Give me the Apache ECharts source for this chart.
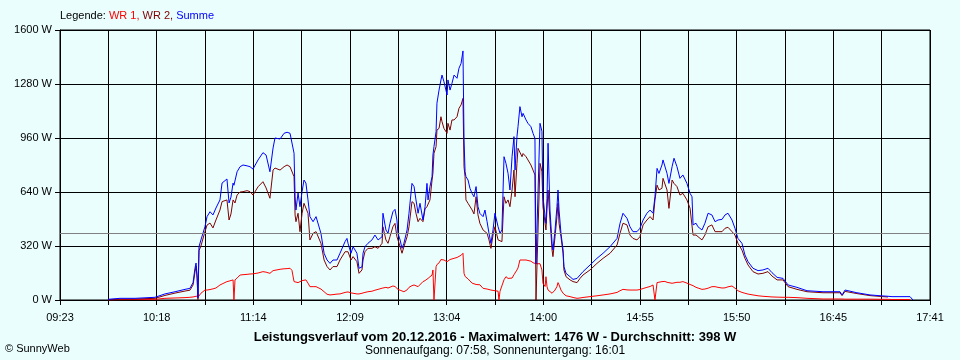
<!DOCTYPE html>
<html>
<head>
<meta charset="utf-8">
<script src="https://cdn.jsdelivr.net/npm/echarts@6/dist/echarts.min.js"></script>
<style>
html,body{margin:0;padding:0;background:#eafefe;}
#c{width:960px;height:360px;}
</style>
</head>
<body>
<div id="c"></div>
<script>
// x tick labels (every second grid line)
const tickLabels = ['09:23','10:18','11:14','12:09','13:04','14:00','14:55','15:50','16:45','17:41'];
const yTicks = [0, 320, 640, 960, 1280, 1600];
const average = 398;

// sample times, minutes since midnight
const times = [
590.8,597.7,606.3,617.7,623.4,629.2,634.9,637.7,639.5,640.6,641.2,641.8,642.3,642.9,644.0,646.3,647.5,649.2,650.9,652.6,
654.9,656.1,658.9,660.1,661.2,662.4,662.9,663.5,664.7,666.4,668.1,670.4,672.1,673.8,676.7,679.5,681.3,683.5,685.3,686.4,
689.3,691.6,693.3,695.0,696.1,697.3,697.9,698.4,699.6,700.7,701.9,703.0,704.1,705.3,706.4,708.2,709.9,711.0,712.7,714.5,
716.2,717.9,719.6,721.9,723.6,726.5,727.6,728.2,729.9,731.1,733.3,734.5,736.2,736.8,737.9,739.6,741.9,743.6,745.4,747.7,
748.2,749.9,751.1,752.2,753.9,755.1,756.2,756.8,758.0,759.1,760.2,762.0,763.1,764.8,766.0,767.1,768.3,769.4,771.1,772.3,
773.4,774.0,775.1,776.3,776.8,777.4,778.6,779.1,780.3,781.4,782.0,783.1,784.9,785.4,786.6,787.7,788.9,790.6,791.7,792.9,
794.0,794.6,795.2,795.7,796.9,798.0,799.2,800.3,801.5,802.6,803.7,805.5,806.6,807.8,808.9,810.0,811.2,812.3,814.1,814.6,
815.2,816.3,817.5,818.6,819.8,820.9,822.1,823.2,823.8,824.9,825.5,826.6,827.8,828.4,830.1,831.2,832.9,834.1,835.2,835.8,
836.9,838.1,839.2,839.8,841.0,841.5,842.1,842.7,843.8,845.0,845.5,846.7,847.8,848.4,849.0,850.1,851.3,851.8,853.0,854.1,
855.3,857.0,859.3,861.0,862.7,866.7,870.7,874.2,878.2,882.2,883.9,885.6,886.7,887.9,889.6,891.3,893.6,895.3,897.1,899.3,
901.1,902.8,903.9,905.1,906.2,907.9,908.5,909.6,910.8,911.9,913.7,914.8,916.5,918.2,919.9,922.2,924.0,925.1,925.7,927.4,
928.5,930.8,932.5,934.3,936.5,938.3,940.0,942.3,944.0,945.7,948.0,949.7,951.4,953.7,955.4,957.2,960.0,962.9,965.7,968.6,
970.9,973.8,977.2,980.1,985.2,990.9,1000.1,1009.8,1011.0,1012.7,1019.5,1027.0,1034.4,1037.3,1039.6,1049.9,1051.6
];

// Summe (blue)
const summe = [
4,10,10,16,36,49,63,69,103,188,219,150,12,316,356,434,494,523,504,545,
593,693,717,575,610,693,680,670,760,790,800,795,790,776,830,873,859,760,901,960,
954,988,994,988,978,870,612,533,634,553,642,711,693,593,494,464,494,504,395,277,
237,217,237,237,277,346,365,336,277,316,277,188,196,277,316,336,356,385,356,375,
514,415,395,454,523,537,474,395,356,306,336,415,514,691,672,593,514,573,474,553,
691,593,672,731,859,909,998,1166,1244,1304,1333,1294,1215,1304,1244,1284,1333,1314,1373,1402,
1476,948,760,731,711,662,632,612,672,553,513,494,533,464,395,336,415,514,434,430,
395,415,849,810,751,652,849,968,770,968,1027,1146,1086,1106,1067,1047,1027,988,958,215,
210,1047,1000,612,494,454,600,929,533,336,296,415,553,652,533,395,296,198,158,148,
138,122,128,148,168,207,247,277,316,365,454,514,514,484,434,405,405,425,474,514,
533,514,612,780,750,800,830,820,750,691,790,840,790,721,741,691,632,612,445,455,
434,415,455,514,504,464,474,478,504,514,474,425,365,336,267,227,188,174,178,188,
162,134,128,89,75,55,49,49,30,59,43,30,24,22,20,20,0
];

// WR 2 (dark red)
const wr2 = [
2,5,6,10,27,41,53,58,89,166,200,130,2,292,320,405,444,456,427,474,
533,583,593,474,510,593,585,575,622,640,642,648,642,622,671,701,664,603,770,782,
770,790,800,790,800,731,504,464,514,405,514,573,583,514,356,395,405,415,336,237,
198,178,198,198,237,286,296,286,237,257,227,158,178,237,286,306,306,316,306,336,
434,356,336,375,434,454,375,356,316,277,316,375,434,583,573,514,464,484,464,540,
553,543,593,711,751,869,909,1007,1017,1086,1057,1017,988,1047,1007,1067,1067,1086,1136,1156,
1195,790,731,593,573,563,534,510,612,504,454,415,405,395,356,306,385,434,356,356,
356,346,612,573,593,553,652,770,612,810,899,899,849,868,849,830,800,770,741,0,
0,810,760,553,454,415,540,652,474,296,257,375,494,573,454,375,277,178,138,128,
119,109,103,128,148,178,217,247,277,326,395,455,455,445,385,365,356,375,445,474,
494,474,593,681,652,662,721,711,652,543,711,691,672,622,632,593,543,533,385,385,
379,356,385,434,445,405,405,405,425,431,405,385,336,296,247,207,168,154,158,168,
142,119,119,79,63,49,43,43,26,51,38,26,20,18,null,null,null
];

// WR 1 (red)
const wr1 = [
0,2,3,4,10,12,14,16,18,22,22,22,22,24,40,59,59,62,66,71,
89,95,109,112,119,119,0,119,130,148,150,152,154,155,160,168,165,158,174,176,
182,185,186,188,176,109,109,105,103,110,115,119,119,100,79,79,79,79,65,49,
34,30,32,35,36,45,49,48,42,40,36,36,40,42,45,49,52,58,63,70,
79,75,71,78,83,80,70,63,58,52,49,60,75,85,89,85,79,90,109,115,
122,128,135,148,178,0,198,210,220,240,247,237,227,237,240,245,247,252,257,265,
277,158,140,130,125,119,100,89,92,99,90,69,68,65,60,59,57,55,52,0,
52,60,120,138,128,119,130,150,160,178,190,237,237,237,237,237,230,221,215,215,
210,215,178,99,80,138,80,59,55,40,40,59,80,103,90,59,40,30,25,22,
20,15,10,12,15,20,25,30,36,45,55,63,63,60,59,59,59,62,68,75,
80,89,0,103,103,109,109,110,105,103,99,99,105,105,109,100,92,89,85,75,
65,63,65,70,79,79,75,71,72,78,83,70,55,45,40,35,30,25,22,20,
18,17,16,16,14,10,6,6,6,5,5,5,4,4,3,3,null,null
];

const xMin = 9 * 60 + 23 + 1 / 3;
const xSpan = 498;
const xStep = xSpan / 18;

function pairs(arr) { return times.map((t, i) => [t, arr[i] === undefined ? null : arr[i]]); }

const chart = echarts.init(document.getElementById('c'), null, {renderer: 'canvas'});
const font = '"Liberation Sans", Arial, sans-serif';
chart.setOption({
  animation: false,
  backgroundColor: '#eafefe',
  textStyle: {fontFamily: font},
  title: [
    {
      left: 60, top: 10, padding: 0,
      text: '{k|Legende: }{a|WR 1, }{b|WR 2, }{c|Summe}',
      textStyle: {
        fontSize: 11, fontWeight: 'normal',
        rich: {
          k: {color: '#000', fontSize: 11, fontFamily: font},
          a: {color: '#ff0000', fontSize: 11, fontFamily: font},
          b: {color: '#800000', fontSize: 11, fontFamily: font},
          c: {color: '#0000ff', fontSize: 11, fontFamily: font}
        }
      }
    },
    {
      left: 495, top: 331, textAlign: 'center', padding: 0,
      text: 'Leistungsverlauf vom 20.12.2016 - Maximalwert: 1476 W - Durchschnitt: 398 W',
      textStyle: {fontSize: 13, fontWeight: 'bold', color: '#000', fontFamily: font}
    },
    {
      left: 495, top: 345, textAlign: 'center', padding: 0,
      text: 'Sonnenaufgang: 07:58, Sonnenuntergang: 16:01',
      textStyle: {fontSize: 12, fontWeight: 'normal', color: '#000', fontFamily: font}
    },
    {
      left: 5, top: 343, padding: 0,
      text: '© SunnyWeb',
      textStyle: {fontSize: 11, fontWeight: 'normal', color: '#000', fontFamily: font}
    }
  ],
  grid: {
    left: 60, right: 30, top: 30, bottom: 60,
    show: true, borderColor: '#000', borderWidth: 1, backgroundColor: 'transparent'
  },
  xAxis: {
    type: 'value',
    min: xMin, max: xMin + xSpan, interval: xStep,
    axisLine: {show: true, lineStyle: {color: '#000', width: 1}},
    axisTick: {show: true, length: 5, lineStyle: {color: '#000'}},
    splitLine: {show: true, lineStyle: {color: '#000', width: 1}},
    axisLabel: {
      color: '#000', fontSize: 11, fontFamily: font, margin: 12,
      showMaxLabel: true, showMinLabel: true,
      formatter: function (v) {
        const n = Math.round((v - xMin) / xStep);
        return n % 2 === 0 ? (tickLabels[n / 2] || '') : '';
      }
    }
  },
  yAxis: {
    type: 'value',
    min: yTicks[0], max: yTicks[yTicks.length - 1], interval: yTicks[1] - yTicks[0],
    axisLine: {show: true, lineStyle: {color: '#000', width: 1}},
    axisTick: {show: true, length: 5, lineStyle: {color: '#000'}},
    splitLine: {show: true, lineStyle: {color: '#000', width: 1}},
    axisLabel: {
      color: '#000', fontSize: 11, fontFamily: font, margin: 8,
      formatter: function (v) { return String(Math.round(v)) + ' W'; }
    }
  },
  series: [
    {
      name: 'WR 1', type: 'line', data: pairs(wr1), showSymbol: false, symbol: 'none',
      lineStyle: {color: '#ff0000', width: 1}, itemStyle: {color: '#ff0000'}, z: 2,
      markLine: {
        silent: true, symbol: ['none', 'none'], label: {show: false},
        lineStyle: {color: '#808080', width: 1, type: 'solid'},
        data: [{yAxis: average}]
      }
    },
    {
      name: 'WR 2', type: 'line', data: pairs(wr2), showSymbol: false, symbol: 'none',
      lineStyle: {color: '#800000', width: 1}, itemStyle: {color: '#800000'}, z: 3
    },
    {
      name: 'Summe', type: 'line', data: pairs(summe), showSymbol: false, symbol: 'none',
      lineStyle: {color: '#0000ff', width: 1}, itemStyle: {color: '#0000ff'}, z: 4
    }
  ]
});
</script>
</body>
</html>
